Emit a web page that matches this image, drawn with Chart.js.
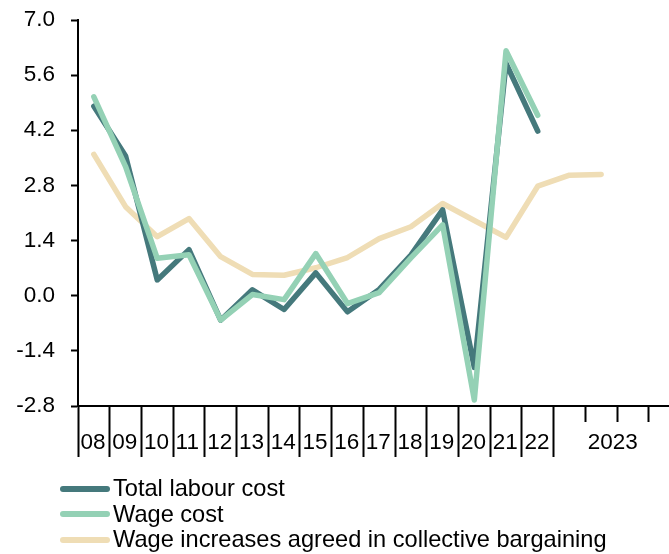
<!DOCTYPE html>
<html>
<head>
<meta charset="utf-8">
<script src="https://cdn.jsdelivr.net/npm/chart.js@4/dist/chart.umd.min.js"></script>
<style>
  html, body { margin: 0; padding: 0; background: #fff; }
  #wrap { position: relative; width: 669px; height: 554px; }
  #legend { position: absolute; left: 60px; top: 476px; font-family: 'Liberation Sans', Arial, sans-serif; font-size: 23.6px; line-height: 25.5px; color: #000; }
  #legend .row { white-space: nowrap; }
  #legend .sw { display: inline-block; width: 50px; height: 6px; border-radius: 3px; vertical-align: middle; margin-right: 3px; position: relative; top: -1px; }
</style>
</head>
<body>
<div id="wrap">
  <canvas id="c" width="669" height="554"></canvas>
  <div id="legend"></div>
</div>
<script>
// ---- data ----
const categories = ['08','09','10','11','12','13','14','15','16','17','18','19','20','21','22','2023 Q1','2023 Q2','2023 Q3','2023 Q4'];
const totalLabourCost = [4.81, 3.55, 0.40, 1.17, -0.62, 0.15, -0.35, 0.58, -0.41, 0.16, 1.03, 2.18, -1.82, 5.90, 4.18, null, null, null, null];
const wageCost        = [5.05, 3.28, 0.95, 1.04, -0.62, 0.03, -0.10, 1.07, -0.20, 0.08, 0.96, 1.80, -2.65, 6.22, 4.58, null, null, null, null];
const collectiveWageIncreases = [3.59, 2.26, 1.50, 1.96, 0.99, 0.54, 0.52, 0.71, 0.97, 1.45, 1.75, 2.34, 1.91, 1.48, 2.78, 3.06, 3.08, null, null];
const seriesNames = ['Total labour cost', 'Wage cost', 'Wage increases agreed in collective bargaining'];
const xTickLabels = ['08','09','10','11','12','13','14','15','16','17','18','19','20','21','22','','2023','',''];
const yTickValues = [-2.8, -1.4, 0.0, 1.4, 2.8, 4.2, 5.6, 7.0];

const colors = ['#45797c', '#94d1b5', '#efddb5'];
const FONT = "'Liberation Sans', Arial, sans-serif";

function pts(arr) { return arr.map((v, i) => ({ x: i, y: v })); }

const datasets = [
  { label: seriesNames[0], data: pts(totalLabourCost), borderColor: colors[0], backgroundColor: colors[0], order: 1 },
  { label: seriesNames[1], data: pts(wageCost), borderColor: colors[1], backgroundColor: colors[1], order: 0 },
  { label: seriesNames[2], data: pts(collectiveWageIncreases), borderColor: colors[2], backgroundColor: colors[2], order: 2 }
].map(d => Object.assign(d, { borderWidth: 5.5, pointRadius: 0, pointHoverRadius: 0, tension: 0, fill: false, spanGaps: false, borderCapStyle: 'round', borderJoinStyle: 'round' }));

const chart = new Chart(document.getElementById('c'), {
  type: 'line',
  data: { datasets },
  options: {
    responsive: false,
    devicePixelRatio: 1,
    animation: false,
    events: [],
    layout: { padding: { top: 20, right: 0, bottom: 92, left: 0 } },
    plugins: { legend: { display: false }, tooltip: { enabled: false } },
    scales: {
      x: {
        type: 'linear',
        position: 'bottom',
        min: -0.5,
        max: 18.14,
        afterBuildTicks: s => { s.ticks = xTickLabels.map((_, i) => ({ value: i - 0.5 })); },
        afterFit: s => { s.height = 56; s.paddingLeft = 0; s.paddingRight = 0; },
        grid: {
          drawOnChartArea: false,
          drawTicks: true,
          tickLength: 51,
          tickWidth: 2,
          tickColor: '#000',
          tickBorderDash: ctx => (ctx.tick && ctx.tick.value > 15) ? [15, 100] : []
        },
        border: { display: true, color: '#000', width: 2 },
        ticks: {
          autoSkip: false,
          maxRotation: 0,
          minRotation: 0,
          align: 'start',
          labelOffset: 2.5,
          padding: -28,
          color: '#000',
          font: { family: FONT, size: 22.5 },
          callback: (v, i) => xTickLabels[i]
        }
      },
      y: {
        min: -2.8,
        max: 7.0,
        afterBuildTicks: s => { s.ticks = yTickValues.map(v => ({ value: v })); },
        afterFit: s => { s.width = 78; s.paddingTop = 0; s.paddingBottom = 0; },
        grid: { drawOnChartArea: false, drawTicks: true, tickLength: 7, tickWidth: 2, tickColor: '#000' },
        border: { display: true, color: '#000', width: 2 },
        ticks: {
          padding: 16,
          color: '#000',
          font: { family: FONT, size: 22.5 },
          callback: v => Number(v).toFixed(1)
        }
      }
    }
  }
});

// legend built from the dataset labels and colours
const lg = document.getElementById('legend');
chart.data.datasets.forEach(d => {
  const row = document.createElement('div');
  row.className = 'row';
  const sw = document.createElement('span');
  sw.className = 'sw';
  sw.style.background = d.borderColor;
  row.appendChild(sw);
  row.appendChild(document.createTextNode(d.label));
  lg.appendChild(row);
});
</script>
</body>
</html>
